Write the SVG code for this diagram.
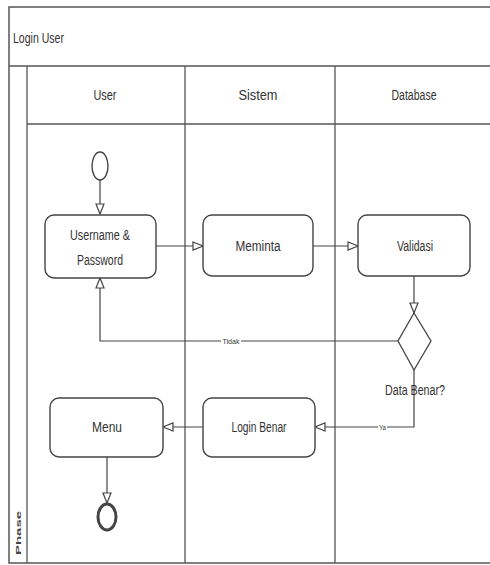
<svg xmlns="http://www.w3.org/2000/svg" width="490" height="565" viewBox="0 0 490 565">
<defs>
<style>
.frame{fill:none;stroke:#555;stroke-width:1.5}
.lane{fill:none;stroke:#555;stroke-width:1.3}
.box{fill:#fff;stroke:#444;stroke-width:1.4}
.edge{fill:none;stroke:#444;stroke-width:1.2}
.t{font-family:"Liberation Sans",Arial,sans-serif;fill:#333;font-size:14px;text-anchor:middle}
.s{font-family:"Liberation Sans",Arial,sans-serif;fill:#333;font-size:8px;text-anchor:middle}
</style>
<marker id="tri" viewBox="0 0 12 10" refX="11" refY="5" markerWidth="12" markerHeight="10" markerUnits="userSpaceOnUse" orient="auto">
<path d="M1,1 L11,5 L1,9 Z" fill="#fff" stroke="#444" stroke-width="1.2"/>
</marker>
</defs>
<rect width="490" height="565" fill="#fff"/>
<g id="pool">
<rect class="frame" x="9" y="7" width="482" height="556"/>
<line class="frame" x1="9" y1="66" x2="490" y2="66" stroke-width="2"/>
<text class="t" x="13" y="43" style="text-anchor:start" textLength="51" lengthAdjust="spacingAndGlyphs">Login User</text>
<line class="lane" x1="27" y1="66" x2="27" y2="563"/>
<line class="lane" x1="185" y1="66" x2="185" y2="563"/>
<line class="lane" x1="335" y1="66" x2="335" y2="563"/>
<line class="lane" x1="27" y1="124" x2="490" y2="124"/>
<text class="t" x="105" y="100" textLength="23" lengthAdjust="spacingAndGlyphs">User</text>
<text class="t" x="258" y="100" textLength="39" lengthAdjust="spacingAndGlyphs">Sistem</text>
<text class="t" x="414" y="100" textLength="45" lengthAdjust="spacingAndGlyphs">Database</text>
<text x="19" y="533" transform="rotate(-90 19 533)" style="font-family:'Liberation Sans',Arial,sans-serif;font-size:8px;font-weight:bold;fill:#444;text-anchor:middle;dominant-baseline:middle" textLength="44" lengthAdjust="spacingAndGlyphs">Phase</text>
</g>
<g id="connectors">
<line class="edge" x1="100" y1="180" x2="100" y2="214" marker-end="url(#tri)"/>
<line class="edge" x1="156" y1="246" x2="203" y2="246" marker-end="url(#tri)"/>
<line class="edge" x1="313" y1="246" x2="358" y2="246" marker-end="url(#tri)"/>
<line class="edge" x1="414" y1="276" x2="414" y2="313" marker-end="url(#tri)"/>
<polyline class="edge" points="398,341 100,341 100,278" marker-end="url(#tri)"/>
<polyline class="edge" points="414,370 414,427 315,427" marker-end="url(#tri)"/>
<line class="edge" x1="203" y1="427" x2="163" y2="427" marker-end="url(#tri)"/>
<line class="edge" x1="107" y1="457" x2="107" y2="503" marker-end="url(#tri)"/>
<rect x="221" y="337" width="20" height="8" fill="#fff"/>
<text class="s" x="231" y="344" textLength="17" lengthAdjust="spacingAndGlyphs">Tidak</text>
<rect x="378" y="423" width="9" height="8" fill="#fff"/>
<text class="s" x="382.5" y="430" style="font-size:7px" textLength="7" lengthAdjust="spacingAndGlyphs">Ya</text>
</g>
<g id="start"><ellipse cx="100" cy="166" rx="8" ry="14" fill="#fff" stroke="#444" stroke-width="1.4"/></g>
<g id="username"><rect class="box" x="45" y="215" width="111" height="63" rx="9"/>
<text class="t" x="100" y="240" textLength="60" lengthAdjust="spacingAndGlyphs">Username &amp;</text>
<text class="t" x="100" y="265" textLength="46" lengthAdjust="spacingAndGlyphs">Password</text></g>
<g id="meminta"><rect class="box" x="203" y="215" width="110" height="61" rx="9"/>
<text class="t" x="258" y="251" textLength="45" lengthAdjust="spacingAndGlyphs">Meminta</text></g>
<g id="validasi"><rect class="box" x="358" y="215" width="112" height="61" rx="9"/>
<text class="t" x="415" y="251" textLength="36" lengthAdjust="spacingAndGlyphs">Validasi</text></g>
<g id="decision"><polygon points="414,313 431,341 414,370 398,341" fill="#fff" stroke="#444" stroke-width="1.3"/>
<text class="t" x="415" y="395" textLength="60" lengthAdjust="spacingAndGlyphs">Data Benar?</text></g>
<g id="loginbenar"><rect class="box" x="203" y="398" width="112" height="59" rx="9"/>
<text class="t" x="259" y="432" textLength="55" lengthAdjust="spacingAndGlyphs">Login Benar</text></g>
<g id="menu"><rect class="box" x="50" y="398" width="113" height="59" rx="9"/>
<text class="t" x="107" y="432" textLength="30" lengthAdjust="spacingAndGlyphs">Menu</text></g>
<g id="end"><ellipse cx="107" cy="517" rx="9" ry="13" fill="#fff" stroke="#444" stroke-width="3"/></g>
</svg>
